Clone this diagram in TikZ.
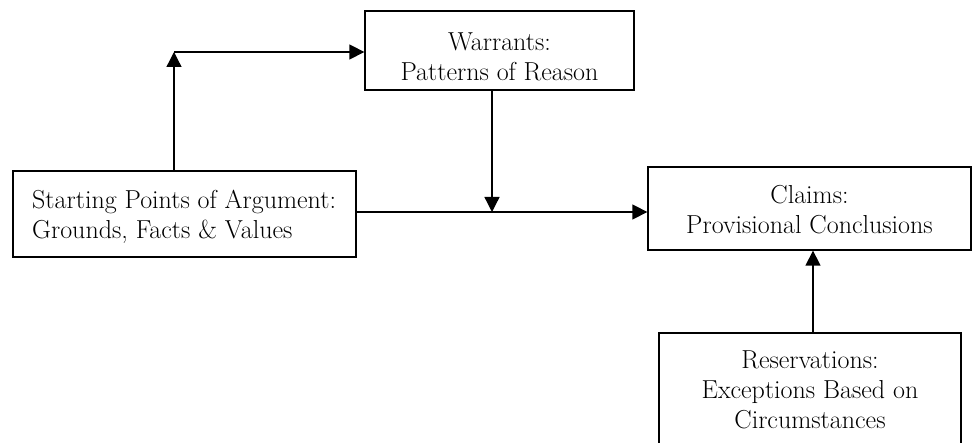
\documentclass[tikz,border=0pt]{standalone}
\usepackage{fontspec}
\usetikzlibrary{arrows.meta}
\begin{document}
\begin{tikzpicture}[x=1pt,y=-1pt,
  box/.style={draw,line width=1.3pt,rectangle,inner sep=0pt},
  lbl/.style={inner sep=0pt,font=\fontsize{26}{30}\selectfont},
  conn/.style={line width=1.3pt,-{Triangle[length=15pt,width=15pt]}}]
\useasboundingbox (0,0) rectangle (972,443);
\clip (0,0) rectangle (972,443);
\node[box,minimum width=269pt,minimum height=79pt] (warr) at (499.5,50.5) {};
\node[lbl,align=center] (warrt) at (499.5,57) {Warrants:\\Patterns of Reason};
\node[box,minimum width=343pt,minimum height=86pt] (start) at (184.5,214) {};
\node[lbl,align=left,anchor=west] (startt) at (32,217) {Starting Points of Argument:\\Grounds, Facts \& Values};
\node[box,minimum width=323pt,minimum height=83pt] (claim) at (809.5,208.5) {};
\node[lbl,align=center] (claimt) at (809.5,209.5) {Claims:\\Provisional Conclusions};
\node[box,minimum width=302pt,minimum height=114pt] (resv) at (810,390) {};
\node[lbl,align=center] (resvt) at (810,390) {Reservations:\\Exceptions Based on\\Circumstances};
\coordinate (c1) at (174,52);
\coordinate (j) at (492,212);
\draw[conn] (start.north -| c1) -- (c1);
\draw[conn] (c1) -- (warr.west |- c1);
\draw[conn] (start.east |- j) -- (claim.west |- j);
\draw[conn] (warr.south -| j) -- (j);
\draw[conn] (resv.north -| 813,0) -- (claim.south -| 813,0);
\end{tikzpicture}
\end{document}
